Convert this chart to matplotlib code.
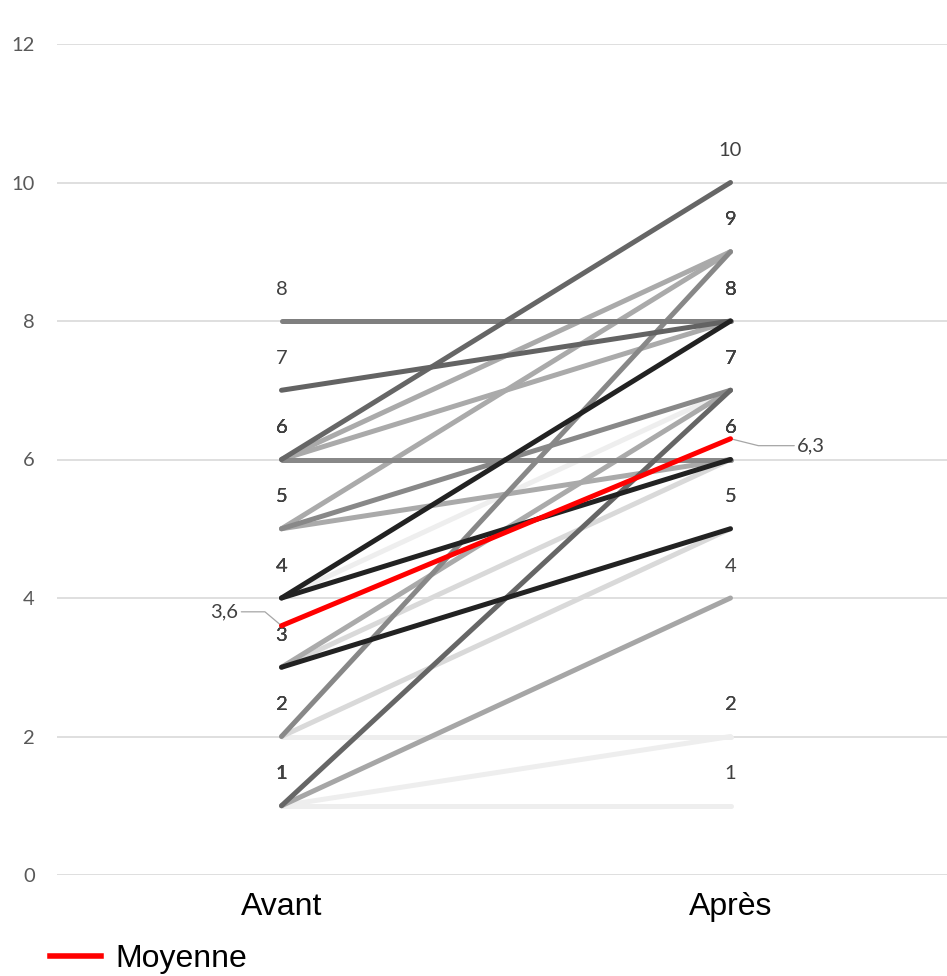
import matplotlib
matplotlib.use("Agg")
import matplotlib.pyplot as plt
from matplotlib.lines import Line2D

# Données : une ligne par personne (avant -> après)
categories = ["Avant", "Après"]
avant = [8, 7, 6, 6, 6, 6, 5, 5, 5, 4, 4, 4, 3, 3, 3, 2, 2, 2, 1, 1, 1, 1]
apres = [8, 8, 10, 9, 8, 6, 9, 7, 6, 8, 6, 7, 5, 6, 7, 9, 5, 2, 7, 4, 2, 1]
couleurs = ["#7f7f7f", "#636363", "#666666", "#aaaaaa", "#aaaaaa", "#888888",
            "#aaaaaa", "#888888", "#aaaaaa", "#222222", "#222222", "#eeeeee",
            "#222222", "#d9d9d9", "#aaaaaa", "#888888", "#d9d9d9", "#eeeeee",
            "#666666", "#a6a6a6", "#eeeeee", "#eeeeee"]
moyenne = [3.6, 6.3]
moyenne_labels = ["3,6", "6,3"]
yticks = [0, 2, 4, 6, 8, 10, 12]

fig = plt.figure(figsize=(9.47, 9.76), dpi=100)
ax = fig.add_axes([57 / 947, 101 / 976, 898 / 947, 831 / 976])

# lignes claires d'abord, foncées au-dessus
def luminance(c):
    return int(c[1:3], 16)

ordre = sorted(range(len(avant)), key=lambda i: -luminance(couleurs[i]))
for i in ordre:
    ax.plot([0, 1], [avant[i], apres[i]], color=couleurs[i], lw=3.6,
            solid_capstyle="round", zorder=3)

# étiquettes de données
for i in range(len(avant)):
    ax.annotate(str(avant[i]), (0, avant[i]), xytext=(0, 23), textcoords="offset points",
                ha="center", va="center", fontsize=14.5, family="Lato", color="#404040")
    ax.annotate(str(apres[i]), (1, apres[i]), xytext=(0, 23), textcoords="offset points",
                ha="center", va="center", fontsize=14.5, family="Lato", color="#404040")

# moyenne
ax.plot([0, 1], moyenne, color="#ff0000", lw=3.6, solid_capstyle="round", zorder=5)
ax.annotate(moyenne_labels[0], (0, moyenne[0]), xytext=(-41, 10), textcoords="offset points",
            ha="center", va="center", fontsize=14.5, family="Lato", color="#404040",
            arrowprops=dict(arrowstyle="-", color="#a6a6a6", lw=0.9,
                            connectionstyle="angle,angleA=0,angleB=140,rad=0",
                            shrinkA=0, shrinkB=0))
ax.annotate(moyenne_labels[1], (1, moyenne[1]), xytext=(58, -5), textcoords="offset points",
            ha="center", va="center", fontsize=14.5, family="Lato", color="#404040",
            arrowprops=dict(arrowstyle="-", color="#a6a6a6", lw=0.9,
                            connectionstyle="angle,angleA=0,angleB=-14,rad=0",
                            shrinkA=0, shrinkB=0))

ax.set_xlim(-0.5, 1.5)
ax.set_ylim(0, 12)
ax.set_xticks([0, 1])
ax.set_xticklabels(categories, fontsize=23, family="Liberation Sans", color="black")
ax.set_yticks(yticks)
ax.set_yticklabels([str(v) for v in yticks], fontsize=14.5, family="Lato", color="#595959")
ax.tick_params(axis="x", length=0, pad=12)
ax.tick_params(axis="y", length=0, pad=16)
ax.grid(axis="y", color="#d9d9d9", lw=1.2)
ax.set_axisbelow(True)
for s in ax.spines.values():
    s.set_visible(False)

handle = Line2D([], [], color="#ff0000", lw=4)
fig.legend(handles=[handle], labels=["Moyenne"], loc="lower left",
           bbox_to_anchor=(0.0355, -0.014), frameon=False, borderpad=0,
           handlelength=1.6, handletextpad=0.45,
           prop={"family": "Liberation Sans", "size": 23})

plt.savefig("out.png", dpi=100)
